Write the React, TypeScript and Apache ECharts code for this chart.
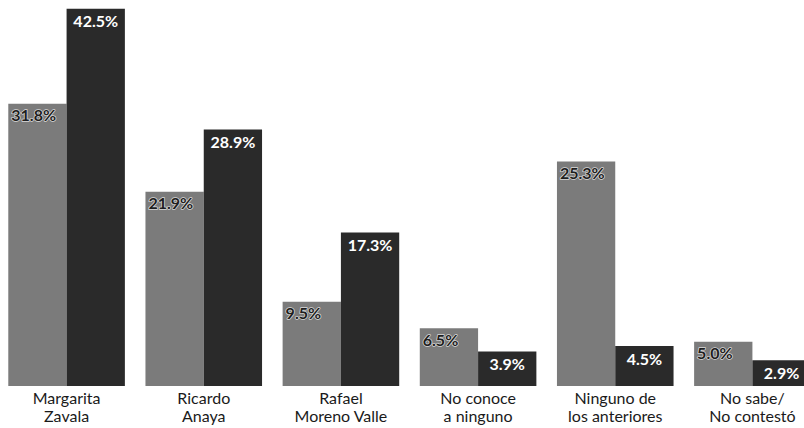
import React, { useEffect, useRef } from "react";
import * as echarts from "echarts";

const categories = [
  "Margarita\nZavala",
  "Ricardo\nAnaya",
  "Rafael\nMoreno Valle",
  "No conoce\na ninguno",
  "Ninguno de\nlos anteriores",
  "No sabe/\nNo contestó",
];
const seriesA = [31.8, 21.9, 9.5, 6.5, 25.3, 5.0];
const seriesB = [42.5, 28.9, 17.3, 3.9, 4.5, 2.9];

export default function App() {
  const ref = useRef<HTMLDivElement>(null);
  useEffect(() => {
    const chart = echarts.init(ref.current!, null, { renderer: "svg" });
    const fontFamily = "Lato, 'Open Sans', sans-serif";
    chart.setOption({
      animation: false,
      backgroundColor: "#ffffff",
      grid: {
        left: -2,
        width: 823,
        top: 0,
        bottom: 42,
        outerBoundsMode: "none",
        containLabel: false,
      },
      xAxis: {
        type: "category",
        data: categories,
        axisLine: { show: false },
        axisTick: { show: false },
        axisLabel: {
          color: "#1a1a1a",
          fontSize: 16,
          fontFamily,
          lineHeight: 18,
          margin: 2,
          interval: 0,
        },
      },
      yAxis: {
        type: "value",
        min: 0,
        max: 43.5,
        show: false,
        splitLine: { show: false },
      },
      series: [
        {
          type: "bar",
          data: seriesA,
          barGap: "0%",
          barCategoryGap: "15%",
          itemStyle: { color: "#7b7b7b" },
          label: {
            show: true,
            position: "insideTopLeft",
            distance: 3,
            formatter: (p: any) => p.value.toFixed(1) + "%",
            color: "#1e1e1e",
            fontWeight: "bold",
            fontSize: 16,
            fontFamily,
            textBorderColor: "#d8d8d8",
            textBorderWidth: 1.5,
          },
        },
        {
          type: "bar",
          data: seriesB,
          itemStyle: { color: "#2a2a2a" },
          label: {
            show: true,
            position: "insideTop",
            distance: 4,
            formatter: (p: any) => p.value.toFixed(1) + "%",
            color: "#ffffff",
            fontWeight: "bold",
            fontSize: 16,
            fontFamily,
          },
        },
      ],
    });
    return () => chart.dispose();
  }, []);
  return (
    <div
      ref={ref}
      style={{ position: "fixed", left: 0, top: 0, width: 804, height: 428 }}
    />
  );
}
